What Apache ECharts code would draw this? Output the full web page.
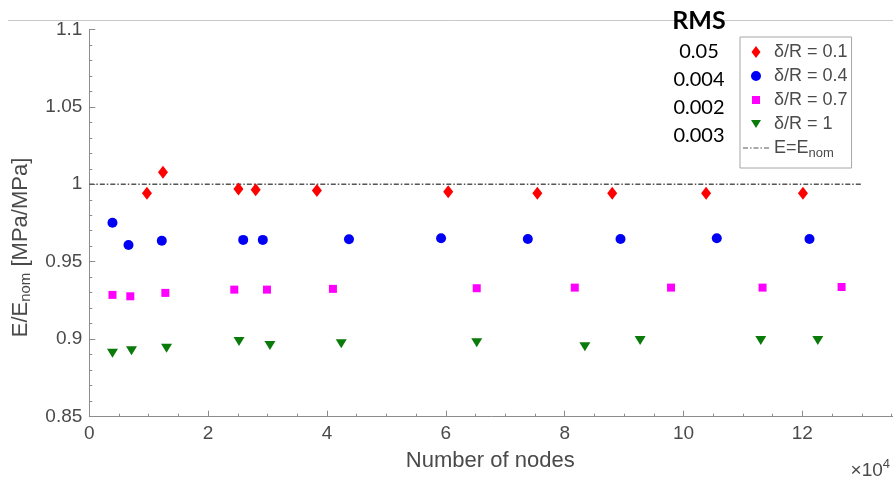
<!DOCTYPE html>
<html><head><meta charset="utf-8">
<script src="https://cdn.jsdelivr.net/npm/echarts@6/dist/echarts.min.js"></script>
<style>html,body{margin:0;padding:0;background:#fff}#c{width:893px;height:480px}</style>
</head><body><div id="c"></div>
<script>
const seriesNames = ['δ/R = 0.1', 'δ/R = 0.4', 'δ/R = 0.7', 'δ/R = 1'];
const nodes01 = [9700, 12400, 25100, 28000, 38300, 60400, 75400, 88000, 103800, 120100];
const ratio01 = [0.9942, 1.0077, 0.9970, 0.9965, 0.9959, 0.9952, 0.9942, 0.9942, 0.9942, 0.9942];
const nodes04 = [3900, 6600, 12200, 25900, 29200, 43700, 59200, 73800, 89400, 105600, 121200];
const ratio04 = [0.9752, 0.9608, 0.9636, 0.9641, 0.9641, 0.9645, 0.9652, 0.9647, 0.9647, 0.9652, 0.9647];
const nodes07 = [3900, 6900, 12800, 24400, 29900, 41000, 65200, 81700, 97900, 113300, 126600];
const ratio07 = [0.9286, 0.9277, 0.9299, 0.9320, 0.9320, 0.9325, 0.9329, 0.9333, 0.9333, 0.9333, 0.9337];
const nodes10 = [3900, 7100, 13000, 25200, 30400, 42400, 65200, 83400, 92700, 113000, 122600];
const ratio10 = [0.8910, 0.8925, 0.8942, 0.8985, 0.8959, 0.8970, 0.8978, 0.8952, 0.8991, 0.8991, 0.8991];
const nominalX = [0, 130000];
const nominalY = [1, 1];
const rmsValues = ['0.05', '0.004', '0.002', '0.003'];

const pairs = (xs, ys) => xs.map((x, i) => [x, ys[i]]);
const FONT = '"Liberation Sans", Arial, sans-serif';
const TXT = '#4a4a4a';
const AX = '#8c8c8c';
const FRAME = 'M0,0L0,0Z M26,12L26,12Z ';
const legendIcons = [
  'path://' + FRAME + 'M13,0L17.5,6L13,12L8.5,6Z',
  'path://' + FRAME + 'M8,6a5,5 0 1,0 10,0a5,5 0 1,0 -10,0Z',
  'path://' + FRAME + 'M9,2h8v8h-8Z',
  'path://' + FRAME + 'M8,2L18,2L13,10Z',
  'path://' + FRAME + 'M0,5.4h5v1.2h-5Z M7,5.4h1.5v1.2h-1.5Z M10.5,5.4h5v1.2h-5Z M17.5,5.4h1.5v1.2h-1.5Z M21,5.4h5v1.2h-5Z'
];

const chart = echarts.init(document.getElementById('c'), null, {renderer: 'canvas'});
const rmsGraphics = rmsValues.map((t, i) => ({
  type: 'text', x: 699, y: 52 + i * 27.7,
  style: {text: t, font: '20px Lato, sans-serif', fill: '#000', align: 'center', verticalAlign: 'middle'}
}));

chart.setOption({
  animation: false,
  backgroundColor: '#fff',
  grid: {left: 89.3, top: 29.3, width: 831.9, height: 387.4, containLabel: false, outerBoundsMode: 'none'},
  xAxis: {
    type: 'value', min: 0, max: 140000, interval: 20000,
    name: 'Number of nodes', nameLocation: 'middle', nameGap: 33,
    nameTextStyle: {fontFamily: FONT, fontSize: 22, color: TXT, padding: [0, 30, 0, 0]},
    axisLine: {show: true, lineStyle: {color: AX, width: 1}},
    axisTick: {show: true, inside: true, length: 6, lineStyle: {color: AX}},
    minorTick: {show: true, splitNumber: 4, length: 3, lineStyle: {color: AX}},
    splitLine: {show: false}, minorSplitLine: {show: false},
    axisLabel: {fontFamily: FONT, fontSize: 19, color: TXT, margin: 8, formatter: v => String(v / 10000)}
  },
  yAxis: {
    type: 'value', min: 0.85, max: 1.1, interval: 0.05,
    name: '{a|E/E}{s|nom}{a| [MPa/MPa]}', nameLocation: 'middle', nameGap: 56,
    nameTextStyle: {
      fontFamily: FONT, fontSize: 22, color: TXT, padding: [0, 49, 0, 0],
      rich: {
        a: {fontFamily: FONT, fontSize: 22, color: TXT, lineHeight: 24},
        s: {fontFamily: FONT, fontSize: 15, color: TXT, lineHeight: 4, verticalAlign: 'bottom'}
      }
    },
    axisLine: {show: true, lineStyle: {color: AX, width: 1}},
    axisTick: {show: true, inside: true, length: 6, lineStyle: {color: AX}},
    minorTick: {show: true, splitNumber: 5, length: 3, lineStyle: {color: AX}},
    splitLine: {show: false}, minorSplitLine: {show: false},
    axisLabel: {fontFamily: FONT, fontSize: 19, color: TXT, margin: 7, formatter: v => String(+v.toFixed(2))}
  },
  legend: {
    left: 740, top: 37, orient: 'vertical',
    padding: [3, 4, 8, 3], itemGap: 0, itemWidth: 26, itemHeight: 12,
    borderColor: '#a6a6a6', borderWidth: 1, backgroundColor: '#fff',
    textStyle: {fontFamily: FONT, fontSize: 18, color: TXT, lineHeight: 24,
      rich: {
        n: {fontFamily: FONT, fontSize: 18, color: TXT, lineHeight: 24},
        s: {fontFamily: FONT, fontSize: 13, color: TXT, lineHeight: 4, verticalAlign: 'bottom'}
      }
    },
    formatter: name => name === 'E=E_nom' ? '{n|E=E}{s|nom}' : name,
    data: [...seriesNames, 'E=E_nom'].map((n, i) => ({name: n, icon: legendIcons[i]}))
  },
  series: [
    {name: seriesNames[0], type: 'scatter', symbol: 'diamond', symbolSize: [10, 13],
     itemStyle: {color: '#ff0000', opacity: 1}, data: pairs(nodes01, ratio01), z: 5},
    {name: seriesNames[1], type: 'scatter', symbol: 'circle', symbolSize: 10,
     itemStyle: {color: '#0000f5', opacity: 1}, data: pairs(nodes04, ratio04), z: 5},
    {name: seriesNames[2], type: 'scatter', symbol: 'rect', symbolSize: 8,
     itemStyle: {color: '#ff00ff', opacity: 1}, data: pairs(nodes07, ratio07), z: 5},
    {name: seriesNames[3], type: 'scatter', symbol: 'triangle', symbolRotate: 180, symbolSize: [11, 9],
     itemStyle: {color: '#0a7a0a', opacity: 1}, data: pairs(nodes10, ratio10), z: 5},
    {name: 'E=E_nom', type: 'line', symbol: 'none', showSymbol: false,
     lineStyle: {color: '#555', width: 1.5, type: [5, 2, 1.5, 2]},
     itemStyle: {color: '#555'},
     data: pairs(nominalX, nominalY), z: 3}
  ],
  graphic: [
    {type: 'line', shape: {x1: 8, y1: 20.5, x2: 893, y2: 20.5}, style: {stroke: '#c8c8c8', lineWidth: 1}, z: 0},
    {type: 'text', x: 699, y: 21, z: 10,
     style: {text: 'RMS', font: 'bold 25px Lato, sans-serif', fill: '#000', align: 'center', verticalAlign: 'middle'}},
    ...rmsGraphics,
    {type: 'text', x: 890, y: 471, z: 10,
     style: {text: '{a|×10}{p|4}', align: 'right', verticalAlign: 'middle',
       rich: {
         a: {font: '19px ' + FONT, fill: TXT, lineHeight: 20},
         p: {font: '13px ' + FONT, fill: TXT, lineHeight: 26, verticalAlign: 'top'}
       }}}
  ]
});
</script></body></html>
